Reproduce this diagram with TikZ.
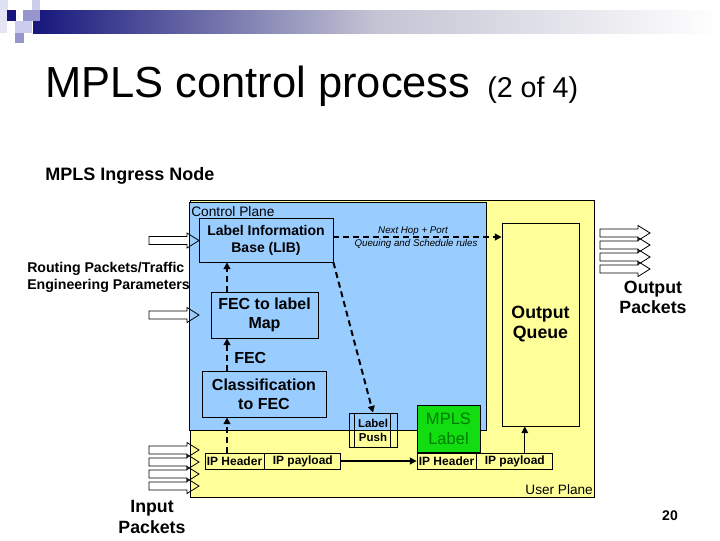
\documentclass[tikz,border=0pt]{standalone}
\usepackage{fontspec}
\setmainfont{Liberation Sans}
\usetikzlibrary{arrows.meta,calc}
\definecolor{cpblue}{RGB}{153,204,255}
\definecolor{upyellow}{RGB}{255,255,153}
\definecolor{mplsgreen}{RGB}{17,221,17}
\definecolor{mplstext}{RGB}{0,125,0}
\definecolor{navy}{RGB}{22,22,125}
\definecolor{lav}{RGB}{150,150,204}
\definecolor{lavlight}{RGB}{204,204,236}
\definecolor{barmid}{RGB}{196,196,212}
\begin{document}
\begin{tikzpicture}[x=0.75pt,y=-0.75pt,
  box/.style={draw, line width=0.6pt, inner sep=0pt, align=center},
  dasharr/.style={line width=1.5pt, dash pattern=on 4.5pt off 3pt, -{Triangle[length=5pt,width=5pt]}},
  solidarr/.style={-{Triangle[length=5pt,width=5pt]}},
  hollowarrow/.pic={\draw[line width=0.6pt] (0,-4) -- (38,-4) -- (38,-7.5) -- (50,0) -- (38,7.5) -- (38,4) -- (0,4) -- cycle;},
  lbl/.style={inner sep=0pt}
]
\useasboundingbox (0,0) rectangle (720,540);
% header decoration
\shade[left color=navy, right color=white, middle color=barmid] (33,10) rectangle (720,33);
\fill[lavlight!60] (0,0) rectangle (8,10);
\fill[lavlight] (32,0) rectangle (40,12);
\fill[lavlight!50] (0,10) rectangle (7,33);
\fill[navy] (7,10) rectangle (16,21);
\fill[lav] (23,10) rectangle (40,21);
\fill[lavlight] (15,21) rectangle (32,33);
\fill[lav] (15,33) rectangle (24,43);

% titles
\node[lbl, anchor=base west, font=\fontsize{32.6}{36}\selectfont] (title) at (45,97) {MPLS control process};
\node[lbl, anchor=base west, font=\fontsize{21.5}{24}\selectfont] (titlepart) at (487,97) {(2 of 4)};
\node[lbl, anchor=base west, font=\fontsize{13.5}{16}\selectfont\bfseries] (sub) at (45,180) {MPLS Ingress Node};

% planes
\draw[fill=upyellow, line width=0.6pt] (190,200) rectangle (594,497);
\draw[fill=cpblue, line width=0.6pt] (189,202) rectangle (486,430);
\node[lbl, anchor=base west, font=\fontsize{10.3}{12}\selectfont] (cplbl) at (191,216) {Control Plane};
\node[lbl, anchor=base east, font=\fontsize{10.2}{12}\selectfont] (uplbl) at (593,494) {User Plane};

% boxes
\node[box, fill=cpblue, minimum width=100.5pt, minimum height=33pt, font=\fontsize{10.5}{12.75}\selectfont\bfseries] (lib) at (266,240) {Label Information\\Base (LIB)};
\node[box, fill=cpblue, minimum width=80.25pt, minimum height=34.5pt, font=\fontsize{12}{14.25}\selectfont\bfseries] (fecmap) at (264.5,315) {FEC to label\\Map};
\node[box, fill=cpblue, minimum width=93pt, minimum height=34.5pt, font=\fontsize{12}{14.25}\selectfont\bfseries] (class) at (264,394) {Classification\\to FEC};
\node[lbl, anchor=west, font=\fontsize{12}{14}\selectfont\bfseries] (feclbl) at (234,358) {FEC};
\node[box, fill=upyellow, minimum width=57.75pt, minimum height=152.25pt, font=\fontsize{13.3}{15}\selectfont\bfseries] (oq) at (540.5,324.5) {Output\\Queue};

\node[box, minimum width=44.25pt, minimum height=12pt, font=\fontsize{9}{10}\selectfont\bfseries] (ip1h) at (234.5,461) {IP Header};
\node[box, minimum width=57pt, minimum height=12pt, anchor=west, font=\fontsize{9}{10}\selectfont\bfseries] (ip1p) at (ip1h.east) {IP payload};
\node[box, minimum width=44.25pt, minimum height=12pt, font=\fontsize{9}{10}\selectfont\bfseries] (ip2h) at (446.5,461) {IP Header};
\node[box, minimum width=57pt, minimum height=12pt, anchor=west, font=\fontsize{9}{10}\selectfont\bfseries] (ip2p) at (ip2h.east) {IP payload};
\node[box, fill=mplsgreen, text=mplstext, minimum width=47.25pt, minimum height=35.25pt, anchor=south west, font=\fontsize{12.4}{15}\selectfont] (mpls) at (ip2h.north west) {MPLS\\Label};

\node[box, minimum width=36pt, minimum height=25.5pt, font=\fontsize{8.6}{10.5}\selectfont\bfseries] (push) at (373,430) {Label\\Push};
\draw[line width=0.6pt] ([xshift=4.5pt]push.north west) -- ([xshift=4.5pt]push.south west);
\draw[line width=0.6pt] ([xshift=-5.25pt]push.north east) -- ([xshift=-5.25pt]push.south east);

\node[lbl, font=\fontsize{7.3}{8}\selectfont\itshape] (nhlbl) at (413,231) {Next Hop + Port};
\node[lbl, font=\fontsize{7.3}{8}\selectfont\itshape] (qlbl) at (416,244) {Queuing and  Schedule rules};

% connectors
\coordinate (ax) at (227,0);
\draw[dasharr] (ax |- ip1h.north) -- (ax |- class.south);
\draw[dasharr] (ax |- class.north) -- (ax |- fecmap.south);
\draw[dasharr] (ax |- fecmap.north) -- (ax |- lib.south);
\draw[dasharr] ([yshift=2.25pt]lib.east) -- ([yshift=2.25pt]lib.east -| oq.west);
\draw[dasharr] (lib.south east) -- (push.north);
\draw[line width=1.5pt, solidarr] (ip1p.east) -- (ip2h.west);
\draw[line width=0.75pt, solidarr] ([xshift=7.5pt]ip2p.north) -- ([xshift=7.5pt]ip2p.north |- oq.south);

% hollow arrows
\pic at (149,240.5) {hollowarrow};
\pic at (149,315) {hollowarrow};
\foreach \yy in {450,462,474,486} { \pic at (149,\yy) {hollowarrow}; }
\foreach \yy in {233,245,257,269} { \pic at (600,\yy) {hollowarrow}; }

% outer labels
\node[lbl, anchor=west, align=left, font=\fontsize{10.6}{12.75}\selectfont\bfseries] (routing) at (27,277.5) {Routing Packets/Traffic\\Engineering Parameters};
\node[lbl, align=center, font=\fontsize{13.3}{15.75}\selectfont\bfseries] (inpk) at (152,516.5) {Input\\Packets};
\node[lbl, align=center, font=\fontsize{13.3}{15}\selectfont\bfseries] (outpk) at (653,297) {Output\\Packets};
\node[lbl, anchor=base, font=\fontsize{10.5}{12}\selectfont\bfseries] (pgnum) at (670,520) {20};
\end{tikzpicture}
\end{document}
